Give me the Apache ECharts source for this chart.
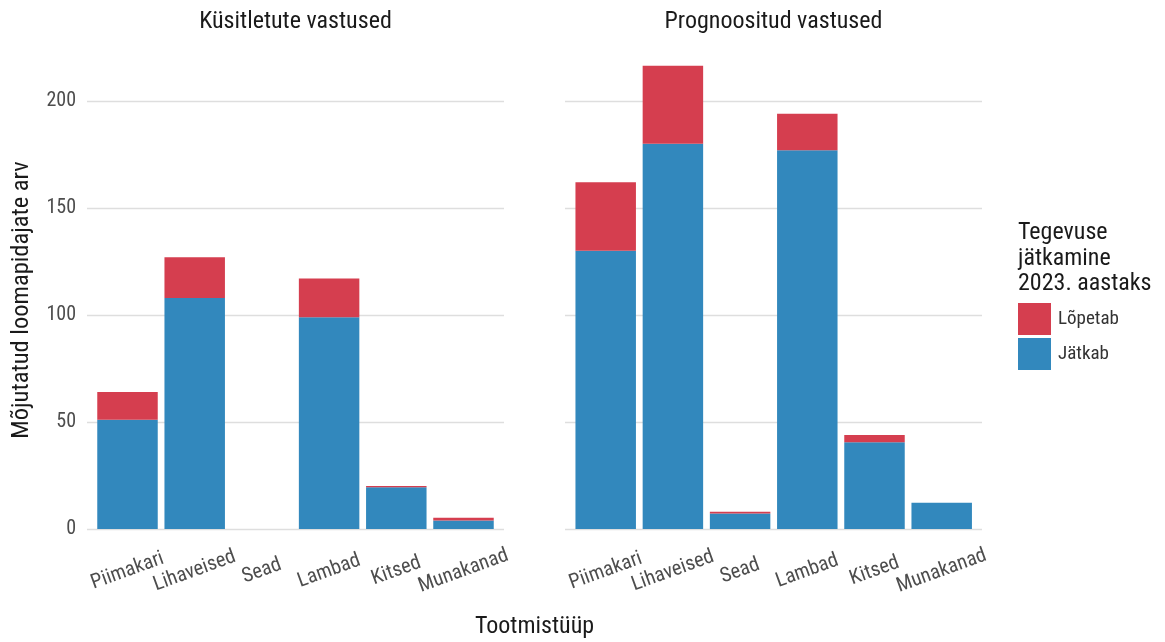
<!DOCTYPE html>
<html>
<head>
<meta charset="utf-8">
<script src="https://cdn.jsdelivr.net/npm/echarts@6/dist/echarts.min.js"></script>
<style>html,body{margin:0;padding:0;background:#fff}#c{width:1165px;height:642px}</style>
</head>
<body>
<div id="c"></div>
<script>
const categories = ['Piimakari','Lihaveised','Sead','Lambad','Kitsed','Munakanad'];
const surveyJatkab = [51, 108, 0, 99, 19.5, 4];
const surveyLopetab = [13, 19, 0, 18, 0.6, 1.3];
const forecastJatkab = [130, 180, 7.3, 177, 40.5, 12.3];
const forecastLopetab = [32, 36.5, 0.8, 17, 3.4, 0];
const yTicks = [0, 50, 100, 150, 200];
const panelTitles = ['Küsitletute vastused', 'Prognoositud vastused'];
const seriesNames = ['Lõpetab', 'Jätkab'];
const legendTitle = ['Tegevuse', 'jätkamine', '2023. aastaks'];
const xTitle = 'Tootmistüüp';
const yTitle = 'Mõjutatud loomapidajate arv';

const FONT = "'Liberation Sans Narrow', 'Roboto Condensed', Roboto, sans-serif";
const RED = '#d53e4f', BLUE = '#3288bd';
const pxPerUnit = 428 / 200;
const zeroY = 529;
const barMax = 230;
const catW = 67.2;

const chart = echarts.init(document.getElementById('c'));

function gridAxisY(idx, showLabels) {
  return {
    gridIndex: idx, type: 'value', min: yTicks[0], max: yTicks[yTicks.length-1], interval: 50,
    axisLine: {show: false}, axisTick: {show: false},
    axisLabel: {show: showLabels, color: '#4d4d4d', fontSize: 20, fontFamily: FONT, margin: 11},
    splitLine: {show: true, lineStyle: {color: '#dedede', width: 1.3}}
  };
}
function barAxisY(idx) {
  return {gridIndex: idx, type: 'value', min: 0, max: barMax, show: false, splitLine: {show: false}};
}
function barAxisX(idx) {
  return {
    gridIndex: idx, type: 'category', data: categories, boundaryGap: true,
    axisLine: {show: false}, axisTick: {show: false}, splitLine: {show: false},
    axisLabel: {rotate: 20, align: 'center', verticalAlign: 'middle', margin: 42,
      color: '#4d4d4d', fontSize: 20.5, fontFamily: FONT, interval: 0}
  };
}

const barTop = zeroY - barMax * pxPerUnit;
const barH = barMax * pxPerUnit;
const tStyle = (text, align, size) => ({text: text, textAlign: align, textVerticalAlign: 'middle', fontSize: size, fontFamily: FONT, fill: '#1a1a1a'});

const option = {
  backgroundColor: '#fff',
  animation: false,
  grid: [
    {left: 87, width: 417, top: 101, height: 428},
    {left: 565, width: 417, top: 101, height: 428},
    {left: 127.5 - catW/2, width: catW*6, top: barTop, height: barH},
    {left: 605.7 - catW/2, width: catW*6, top: barTop, height: barH}
  ],
  xAxis: [
    {gridIndex: 0, type: 'value', show: false},
    {gridIndex: 1, type: 'value', show: false},
    barAxisX(2), barAxisX(3)
  ],
  yAxis: [gridAxisY(0, true), gridAxisY(1, false), barAxisY(2), barAxisY(3)],
  legend: {
    orient: 'vertical', left: 1018, top: 303, padding: 0,
    itemWidth: 33, itemHeight: 32, itemGap: 3,
    icon: 'rect', data: seriesNames,
    textStyle: {fontSize: 19, fontFamily: FONT, color: '#333', padding: [0,0,0,2]}
  },
  series: [
    {name: seriesNames[1], type: 'bar', xAxisIndex: 2, yAxisIndex: 2, stack: 'L', data: surveyJatkab,
     barWidth: '90%', itemStyle: {color: BLUE}},
    {name: seriesNames[0], type: 'bar', xAxisIndex: 2, yAxisIndex: 2, stack: 'L', data: surveyLopetab,
     barWidth: '90%', itemStyle: {color: RED}},
    {name: seriesNames[1], type: 'bar', xAxisIndex: 3, yAxisIndex: 3, stack: 'R', data: forecastJatkab,
     barWidth: '90%', itemStyle: {color: BLUE}},
    {name: seriesNames[0], type: 'bar', xAxisIndex: 3, yAxisIndex: 3, stack: 'R', data: forecastLopetab,
     barWidth: '90%', itemStyle: {color: RED}}
  ],
  graphic: [
    {type: 'text', x: 295.5, y: 22, style: tStyle(panelTitles[0], 'center', 24)},
    {type: 'text', x: 773.5, y: 22, style: tStyle(panelTitles[1], 'center', 24)},
    {type: 'text', x: 534.5, y: 627, style: tStyle(xTitle, 'center', 24)},
    {type: 'text', x: 22, y: 300, rotation: Math.PI/2, style: tStyle(yTitle, 'center', 24.5)},
    {type: 'text', x: 1018, y: 233, style: tStyle(legendTitle[0], 'left', 24)},
    {type: 'text', x: 1018, y: 259, style: tStyle(legendTitle[1], 'left', 24)},
    {type: 'text', x: 1018, y: 284, style: tStyle(legendTitle[2], 'left', 24)}
  ]
};
chart.setOption(option);
</script>
</body>
</html>
